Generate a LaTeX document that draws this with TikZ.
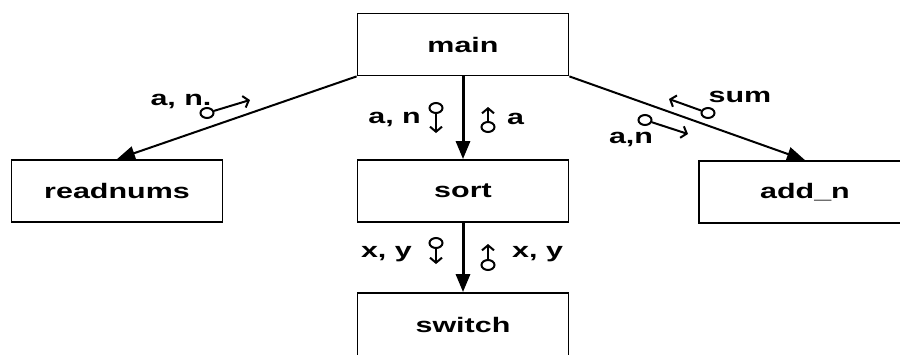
\documentclass[tikz,border=0pt]{standalone}
\usepackage{fontspec}
\usetikzlibrary{arrows.meta,shapes.geometric}
\newfontfamily\dfdface{Liberation Sans Bold}[FakeStretch=1.45]
\newcommand\dfdfont{\dfdface\fontsize{21}{25}\selectfont}
\begin{document}
\begin{tikzpicture}[x=1pt,y=1pt,
  box/.style={draw, line width=1.8pt, minimum width=211pt, minimum height=62pt,
              inner sep=0pt, font=\dfdfont},
  flow/.style={line width=2pt, -{Triangle[length=18pt,width=14pt]}},
  trunk/.style={flow, line width=3pt},
  tag/.style={font=\dfdfont, inner sep=0pt},
  ring/.style={ellipse, draw, line width=2pt, minimum width=13pt, minimum height=10pt, inner sep=0pt},
  couple/.style={line width=2pt, -{Straight Barb[length=5pt,width=12pt]}}]
\useasboundingbox (0,0) rectangle (900,-354);

% modules
\node[box] (main) at (463,-44.5) {main};
\node[box] (readnums) at (117,-191) {readnums};
\node[box] (sort) at (463,-191) {sort};
\node[box, minimum width=212pt] (addn) at (805,-192) {add\_n};
\node[box, minimum height=64pt] (switch) at (463,-325) {switch};

% calls
\draw[flow] (main.south west) -- (readnums.north);
\draw[flow] (main.south east) -- (addn.north);
\draw[trunk] (main) -- (sort);
\draw[trunk] (sort) -- (switch);

% data couples: main -- readnums
\node[ring] (r1) at (207,-113) {};
\coordinate (t1) at (250,-100);
\draw[couple] (r1) -- (t1);
\node[tag, anchor=base] (l1) at (181,-105) {a, n.};

% main -- sort
\node[ring] (r2) at (436,-108) {};
\coordinate (t2) at (436,-133);
\draw[couple] (r2) -- (t2);
\node[tag, anchor=base east] (l2) at (421,-123) {a, n};

\node[ring] (r3) at (488,-127) {};
\coordinate (t3) at (488,-107);
\draw[couple] (r3) -- (t3);
\node[tag, anchor=base west] (l3) at (507,-124) {a};

% main -- add_n
\node[ring] (r4) at (708,-113) {};
\coordinate (t4) at (669,-99);
\draw[couple] (r4) -- (t4);
\node[tag, anchor=base] (l4) at (740,-102) {sum};

\node[ring] (r5) at (645,-120) {};
\coordinate (t5) at (688,-134);
\draw[couple] (r5) -- (t5);
\node[tag, anchor=base] (l5) at (631,-143) {a,n};

% sort -- switch
\node[ring] (r6) at (436,-243) {};
\coordinate (t6) at (436,-264);
\draw[couple] (r6) -- (t6);
\node[tag, anchor=base east] (l6) at (412,-257) {x, y};

\node[ring] (r7) at (488,-265) {};
\coordinate (t7) at (488,-244);
\draw[couple] (r7) -- (t7);
\node[tag, anchor=base west] (l7) at (512,-257) {x, y};
\end{tikzpicture}
\end{document}
